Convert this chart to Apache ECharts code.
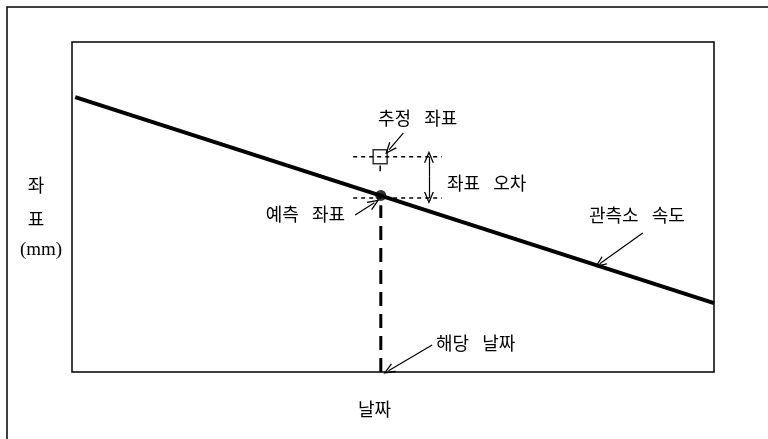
<!DOCTYPE html>
<html>
<head>
<meta charset="utf-8">
<script src="https://cdn.jsdelivr.net/npm/echarts@6/dist/echarts.min.js"></script>
<style>
	html, body { margin: 0; padding: 0; background: #fff; }
	#chart { width: 768px; height: 439px; }
</style>
</head>
<body>
<div id="chart"></div>
<script>
	// 날짜 (x) 0~100, 좌표 (y) 0~100, 눈금 없음
	var obsDates = [0.5, 100];          // 관측소 속도 직선
	var obsCoords = [83.3, 20.9];
	var targetDate = 48.1;              // 해당 날짜
	var predCoord = 53.5;               // 예측 좌표
	var estCoord = 65.2;                // 추정 좌표
	var bandDates = [43.8, 57.6];       // 점선 범위
	var errDate = 55.6;                 // 좌표 오차 화살표 위치

	var font = '"Noto Sans CJK KR", sans-serif';
	var arrowHead = 'path://M5,0 L10,11 L8.6,11 L5,3 L1.4,11 L0,11 Z';

	function seg(x1, y1, x2, y2) {
		return [{ coord: [x1, y1] }, { coord: [x2, y2] }];
	}

	function label(text, x, y, align, f) {
		return {
			type: 'text', x: x, y: y, silent: true,
			style: {
				text: text.replace(/ /g, '\u2002 '), fill: '#000',
				font: f || ('18px ' + font),
				align: align || 'left', verticalAlign: 'middle'
			}
		};
	}

	var myChart = echarts.init(document.getElementById('chart'));
	var option = {
		animation: false,
		backgroundColor: '#fff',
		grid: {
			left: 72, right: 54, top: 42, bottom: 67,
			show: true, borderColor: '#000', borderWidth: 1.5
		},
		xAxis: {
			type: 'value', min: 0, max: 100,
			axisLine: { show: false }, axisTick: { show: false },
			axisLabel: { show: false }, splitLine: { show: false }
		},
		yAxis: {
			type: 'value', min: 0, max: 100,
			axisLine: { show: false }, axisTick: { show: false },
			axisLabel: { show: false }, splitLine: { show: false }
		},
		series: [
			{
				// 관측소 속도
				type: 'line', silent: true, symbol: 'none',
				lineStyle: { color: '#000', width: 4 },
				data: obsDates.map(function (d, i) { return [d, obsCoords[i]]; })
			},
			{
				// 해당 날짜 수직 점선
				type: 'line', silent: true, symbol: 'none',
				lineStyle: { color: '#000', width: 3, type: [14, 8] },
				data: [[targetDate, 0], [targetDate, predCoord - 3]]
			},
			{
				type: 'line', silent: true, symbol: 'none',
				lineStyle: { color: '#000', width: 1.5, type: [4, 4] },
				data: [[bandDates[0], estCoord], [bandDates[1], estCoord]]
			},
			{
				type: 'line', silent: true, symbol: 'none',
				lineStyle: { color: '#000', width: 1.5, type: [4, 4] },
				data: [[bandDates[0], predCoord - 0.8], [bandDates[1], predCoord - 0.8]]
			},
			{
				// 추정 좌표 아래 짧은 선
				type: 'line', silent: true, symbol: 'none',
				lineStyle: { color: '#000', width: 1.5 },
				data: [[targetDate - 0.1, estCoord - 2.6], [targetDate - 0.1, estCoord - 4.4]]
			},
			{
				// 예측 좌표
				type: 'scatter', silent: true, symbol: 'circle', symbolSize: 11,
				itemStyle: { color: '#000' },
				data: [[targetDate, predCoord]]
			},
			{
				// 추정 좌표
				type: 'scatter', silent: true, symbol: 'rect', symbolSize: 14,
				itemStyle: { color: '#fff', borderColor: '#000', borderWidth: 1.5 },
				data: [[targetDate - 0.1, estCoord]],
				markLine: {
					silent: true, animation: false,
					symbol: ['none', arrowHead], symbolSize: [10, 12],
					label: { show: false },
					lineStyle: { color: '#000', width: 1.2, type: 'solid' },
					data: [
						seg(51.6, 72.4, 49.4, 67.4),
						seg(44.1, 47.6, 47.1, 51.3),
						seg(56.1, 8.2, 49.3, 0.4),
						seg(88.9, 42.1, 82.2, 32.8),
						[
							{ coord: [errDate, (estCoord + predCoord) / 2], symbol: 'none' },
							{ coord: [errDate, estCoord] }
						],
						[
							{ coord: [errDate, (estCoord + predCoord) / 2], symbol: 'none' },
							{ coord: [errDate, predCoord - 0.8] }
						]
					]
				}
			}
		],
		graphic: [
			{
				type: 'rect', silent: true,
				shape: { x: 7, y: 7, width: 800, height: 480 },
				style: { fill: 'none', stroke: '#000', lineWidth: 1.5 }
			},
			label('추정 좌표', 378, 118),
			label('좌표 오차', 447, 183),
			label('예측 좌표', 345, 214, 'right'),
			label('관측소 속도', 589, 215),
			label('해당 날짜', 436, 343),
			label('날짜', 358, 409),
			label('좌', 36, 185, 'center'),
			label('표', 36, 219, 'center'),
			label('(mm)', 41, 250, 'center', '19px "Liberation Serif", serif')
		]
	};
	myChart.setOption(option);
</script>
</body>
</html>
